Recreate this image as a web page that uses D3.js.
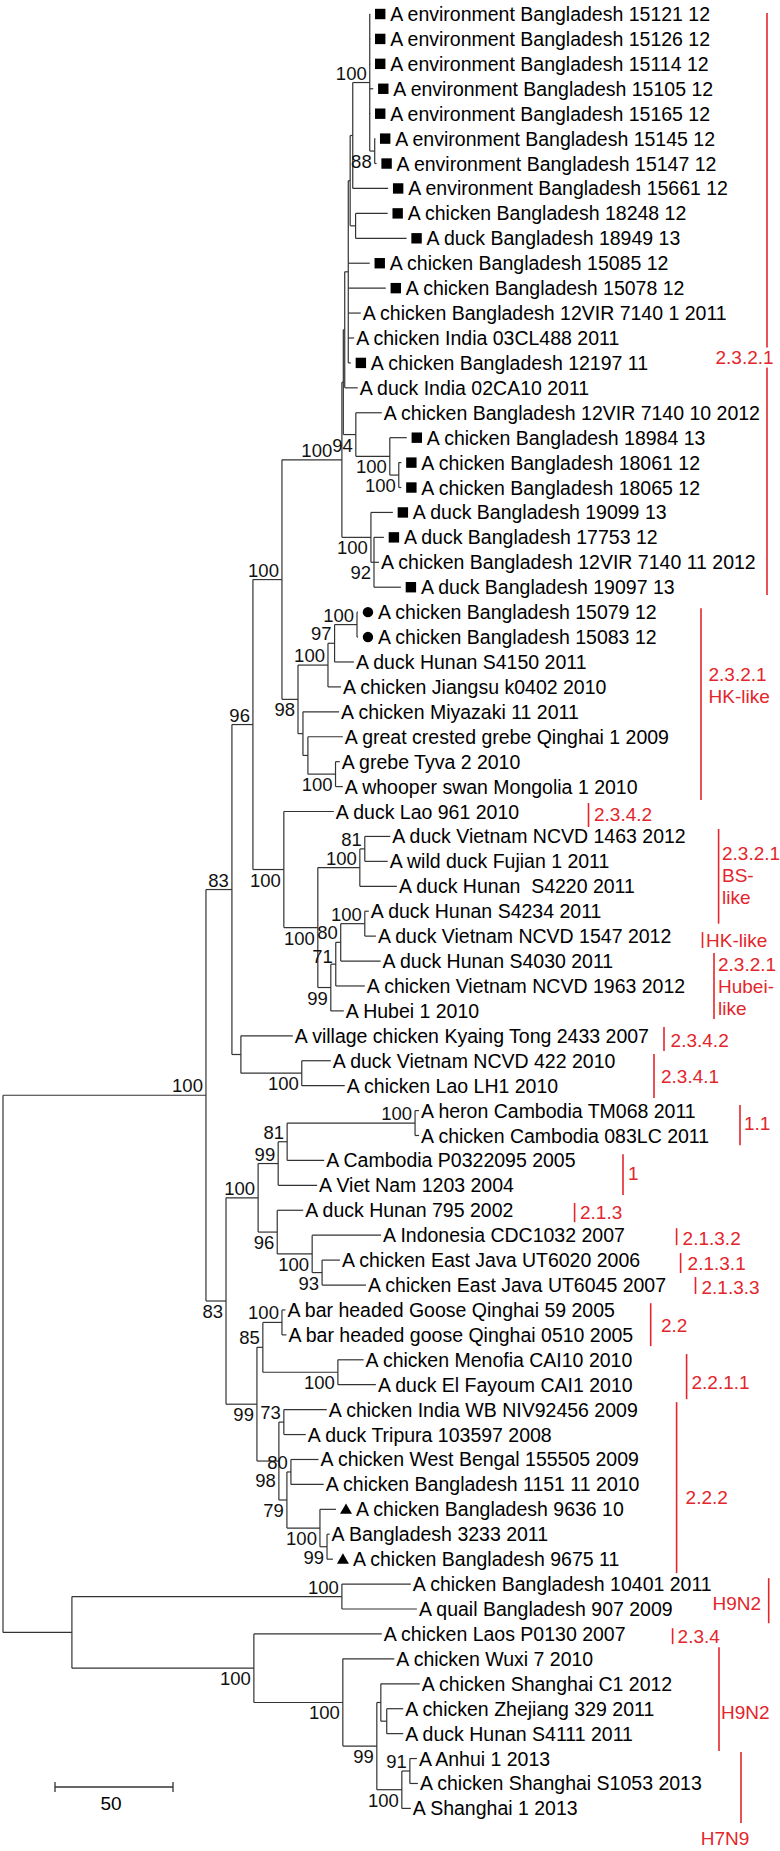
<!DOCTYPE html>
<html><head><meta charset="utf-8">
<script src="https://cdn.jsdelivr.net/npm/d3@7"></script>
<style>
body{margin:0;background:#fff}
svg{display:block}
text{font-family:"Liberation Sans",Arial,Helvetica,sans-serif;white-space:pre}
</style>
</head><body>
<svg id="chart" width="780" height="1851"></svg>
<script>
// ---------------- DATA ----------------
const leafNames = [
"A environment Bangladesh 15121 12","A environment Bangladesh 15126 12","A environment Bangladesh 15114 12",
"A environment Bangladesh 15105 12","A environment Bangladesh 15165 12","A environment Bangladesh 15145 12",
"A environment Bangladesh 15147 12","A environment Bangladesh 15661 12","A chicken Bangladesh 18248 12",
"A duck Bangladesh 18949 13","A chicken Bangladesh 15085 12","A chicken Bangladesh 15078 12",
"A chicken Bangladesh 12VIR 7140 1 2011","A chicken India 03CL488 2011","A chicken Bangladesh 12197 11",
"A duck India 02CA10 2011","A chicken Bangladesh 12VIR 7140 10 2012","A chicken Bangladesh 18984 13",
"A chicken Bangladesh 18061 12","A chicken Bangladesh 18065 12","A duck Bangladesh 19099 13",
"A duck Bangladesh 17753 12","A chicken Bangladesh 12VIR 7140 11 2012","A duck Bangladesh 19097 13",
"A chicken Bangladesh 15079 12","A chicken Bangladesh 15083 12","A duck Hunan S4150 2011",
"A chicken Jiangsu k0402 2010","A chicken Miyazaki 11 2011","A great crested grebe Qinghai 1 2009",
"A grebe Tyva 2 2010","A whooper swan Mongolia 1 2010","A duck Lao 961 2010",
"A duck Vietnam NCVD 1463 2012","A wild duck Fujian 1 2011","A duck Hunan  S4220 2011",
"A duck Hunan S4234 2011","A duck Vietnam NCVD 1547 2012","A duck Hunan S4030 2011",
"A chicken Vietnam NCVD 1963 2012","A Hubei 1 2010","A village chicken Kyaing Tong 2433 2007",
"A duck Vietnam NCVD 422 2010","A chicken Lao LH1 2010","A heron Cambodia TM068 2011",
"A chicken Cambodia 083LC 2011","A Cambodia P0322095 2005","A Viet Nam 1203 2004",
"A duck Hunan 795 2002","A Indonesia CDC1032 2007","A chicken East Java UT6020 2006",
"A chicken East Java UT6045 2007","A bar headed Goose Qinghai 59 2005","A bar headed goose Qinghai 0510 2005",
"A chicken Menofia CAI10 2010","A duck El Fayoum CAI1 2010","A chicken India WB NIV92456 2009",
"A duck Tripura 103597 2008","A chicken West Bengal 155505 2009","A chicken Bangladesh 1151 11 2010",
"A chicken Bangladesh 9636 10","A Bangladesh 3233 2011","A chicken Bangladesh 9675 11",
"A chicken Bangladesh 10401 2011","A quail Bangladesh 907 2009","A chicken Laos P0130 2007",
"A chicken Wuxi 7 2010","A chicken Shanghai C1 2012","A chicken Zhejiang 329 2011",
"A duck Hunan S4111 2011","A Anhui 1 2013","A chicken Shanghai S1053 2013","A Shanghai 1 2013"
];
// marker: s = square, c = circle, t = triangle, "" = none
const leafMarkers = [
"s","s","s","s","s","s","s","s","s","s","s","s","","","s","","","s","s","s","s","s","","s",
"c","c","","","","","","","","","","","","","","","","","","","","","","","","","","",
"","","","","","","","","t","","t","","","","","","","","","",""
];
const leafParent = [
"N100top","N100top","N100top","N100top","N100top","N88","N88","S","N910","N910",
"R1","R1","R1","R1","R1","P","N94","N18984","N18061","N18061","N100low","N92","N92","N92",
"N100c","N100c","N97","N100h","NMiy","NGreb","N100sw","N100sw","N100b","N81a","N81a","NBSl",
"N100hk","N100hk","N80h","N71","N99h","N234","N100lao","N100lao","N100her","N100her","N81c",
"N99c1","N96c","N100ind","N93","N93","N100bh","N100bh","N100eg","N100eg","N73","N73",
"N80b","N80b","N100bd","N99bd","N99bd","N100h9","N100h9","N100o","N100o2","NSh","NZh","NZh",
"N91","N91","N100o3"
];
const leafLength = [
0.2,0.2,0.2,1.5,0.2,0.2,0.8,15.0,13.6,21.6,
9.1,15.9,5.3,2.5,1.1,5.5,11.0,7.2,1.1,1.1,9.3,4.2,2.1,11.4,
0.4,0.4,8.2,5.5,15.3,14.8,1.8,3.1,21.2,10.8,9.7,15.7,
1.7,4.7,16.9,12.3,5.5,22.0,12.3,18.2,1.7,1.7,15.7,
16.5,11.0,29.2,7.6,18.6,1.5,1.9,10.9,16.1,18.2,9.3,
11.7,13.9,6.8,1.1,2.5,29.2,31.8,54.2,21.8,16.5,7.0,7.0,
3.0,3.4,3.8
];
const nodeIds = ["X206","O72","N83a","N83b","N96","N234","X1","N100b","N2321","U","P","R1","T","S",
"N100top","N88","N910","N94","N18984","N18061","N100low","N92","N98","N100h","N97","N100c","NMiy",
"NGreb","N100sw","NBS","NBSl","N81a","N99h","N71","N80h","N100hk","N100lao","N100c1","N99c1","N81c",
"N100her","N96c","N100ind","N93","N99b","N85","N100bh","N100eg","N98b","N73","N79","N80b","N100bd",
"N99bd","N100h9","N100o","N100o2","N99o","NSh","NZh","N100o3","N91"];
const nodeParents = ["root","root","X206","X206","N83a","N83a","N96","N96","X1","N2321","U","P","R1","T",
"S","N100top","T","U","N94","N18984","N2321","N100low","X1","N98","N100h","N97","N98",
"NMiy","NGreb","N100b","NBS","NBSl","NBS","N99h","N71","N80h","N234","N83b","N100c1","N99c1",
"N81c","N100c1","N96c","N100ind","N83b","N99b","N85","N85","N99b","N98b","N98b","N79","N79",
"N100bd","O72","O72","N100o","N100o2","N99o","NSh","N99o","N100o3"];
const nodeLengths = [86.0,29.2,11.0,8.5,8.9,3.8,12.3,13.1,25.4,0.6,0.6,1.5,0.8,1.1,
7.2,2.1,2.3,5.3,14.4,3.8,12.3,1.3,6.8,12.7,2.8,9.5,2.1,
2.1,11.7,14.4,17.8,2.1,5.5,2.1,2.1,10.2,25.8,13.6,8.5,3.8,
54.2,8.1,14.8,4.2,13.1,2.5,8.1,31.8,9.3,2.1,3.4,1.7,14.0,
3.0,114.4,77.1,37.7,14.4,1.7,2.5,10.6,3.4];
const nodeSupport = [100,null,83,83,96,null,100,100,100,null,null,null,null,null,
100,88,null,94,100,100,100,92,98,100,97,100,null,
null,100,100,100,81,99,71,80,100,100,100,99,81,
100,96,100,93,99,85,100,100,98,73,79,80,100,
99,100,100,100,99,null,null,100,91];
const scaleBarValue = 50;

// clade annotations (text), with hand-placed layout (leaf-index units for vertical extents)
const cladeAnnotations = [
 {lines:["2.3.2.1"], from:-0.04, to:23.31, x:767, tx:715.5, ty:13.76, halo:true},
 {lines:["2.3.2.1","HK-like"], from:23.84, to:31.54, x:701, tx:708.5, ty:26.95},
 {lines:["2.3.4.2"], from:31.66, to:32.62, x:588.5, tx:594, ty:32.1},
 {lines:["2.3.2.1","BS-","like"], from:32.7, to:36.5, x:718.6, tx:722, ty:34.55},
 {lines:["HK-like"], from:36.84, to:37.48, x:702.5, tx:706, ty:37.16},
 {lines:["2.3.2.1","Hubei-","like"], from:37.68, to:40.33, x:714, tx:718, ty:39.02},
 {lines:["2.3.4.2"], from:40.65, to:41.61, x:664, tx:670.6, ty:41.17},
 {lines:["2.3.4.1"], from:41.73, to:43.5, x:654, tx:661, ty:42.62},
 {lines:["1.1"], from:43.78, to:45.39, x:740, tx:744, ty:44.5},
 {lines:["1"], from:45.75, to:47.39, x:623, tx:628, ty:46.5},
 {lines:["2.1.3"], from:47.71, to:48.48, x:574.6, tx:580, ty:48.07},
 {lines:["2.1.3.2"], from:48.72, to:49.4, x:676.6, tx:682.6, ty:49.12},
 {lines:["2.1.3.1"], from:49.72, to:50.52, x:680.6, tx:687.6, ty:50.12},
 {lines:["2.1.3.3"], from:50.68, to:51.36, x:695.5, tx:701.5, ty:51.08},
 {lines:["2.2"], from:51.73, to:53.45, x:650.7, tx:661, ty:52.61},
 {lines:["2.2.1.1"], from:53.77, to:55.58, x:686.6, tx:691.5, ty:54.9},
 {lines:["2.2.2"], from:55.7, to:62.56, x:676.6, tx:685.6, ty:59.51},
 {lines:["H9N2"], from:62.76, to:64.57, x:768.7, tx:761, ty:63.76, anchor:"end"},
 {lines:["2.3.4"], from:64.77, to:65.41, x:672.6, tx:677.6, ty:65.09},
 {lines:["H9N2"], from:65.53, to:69.7, x:719, tx:721, ty:68.14},
 {lines:["H7N9"], from:69.74, to:72.59, x:741, tx:725, ty:73.19, anchor:"middle"}
];

// ---------------- BUILD TREE ----------------
const nodes = new Map();
nodes.set("root", {id:"root", parent:null, len:0, support:null, children:[]});
nodeIds.forEach((id,i)=>nodes.set(id,{id, parent:nodeParents[i], len:nodeLengths[i], support:nodeSupport[i], children:[]}));
leafNames.forEach((name,i)=>nodes.set("L"+i,{id:"L"+i, parent:leafParent[i], len:leafLength[i], leaf:i, name, marker:leafMarkers[i], children:[]}));
nodes.forEach(n=>{ if(n.parent) nodes.get(n.parent).children.push(n); });
const root = nodes.get("root");

const yScale = d3.scaleLinear().domain([0, leafNames.length-1]).range([14, 1808.4]);
const xScale = d3.scaleLinear().domain([0, scaleBarValue]).range([3, 121]);

function minLeaf(n){ if(n.leaf!==undefined) return n.leaf; return n._min ?? (n._min = d3.min(n.children, minLeaf)); }
function layout(n, depth){
  n.depth = depth;
  if(n.leaf!==undefined){ n.y = yScale(n.leaf); return; }
  n.children.sort((a,b)=>minLeaf(a)-minLeaf(b));
  n.children.forEach(c=>layout(c, depth + c.len));
  n.y = (n.children[0].y + n.children[n.children.length-1].y)/2;
}
layout(root, 0);
const all = Array.from(nodes.values());

// ---------------- DRAW ----------------
const svg = d3.select("#chart");
const gTree = svg.append("g").attr("stroke","#333").attr("stroke-width",1.2).attr("fill","none");

// horizontal branches
gTree.selectAll("line.h").data(all.filter(n=>n.parent)).join("line")
  .attr("x1", n=>xScale(nodes.get(n.parent).depth)).attr("x2", n=>xScale(n.depth))
  .attr("y1", n=>n.y).attr("y2", n=>n.y);
// vertical connectors
gTree.selectAll("line.v").data(all.filter(n=>n.children.length)).join("line")
  .attr("x1", n=>xScale(n.depth)).attr("x2", n=>xScale(n.depth))
  .attr("y1", n=>n.children[0].y).attr("y2", n=>n.children[n.children.length-1].y);

// bootstrap labels
const internal = all.filter(n=>n.support);
const supLabels = svg.append("g").selectAll("text").data(internal).join("text")
  .attr("font-size", 18.5).attr("fill","#111").attr("text-anchor","end")
  .attr("x", n=>xScale(n.depth)-3)
  .attr("y", n=>{
     const p = nodes.get(n.parent);
     const last = p.children[p.children.length-1]===n;
     return last ? n.y+17 : n.y-3;
  })
  .text(n=>n.support);
// nudge labels that collide: side-by-side ones move left, stacked ones move apart vertically
const boxes = supLabels.nodes().map(el=>({el, b:el.getBBox()}));
boxes.forEach(a=>boxes.forEach(c=>{
  if(a===c) return;
  const ay = a.b.y + a.b.height/2, cy = c.b.y + c.b.height/2;
  const hOver = a.b.x < c.b.x + c.b.width && c.b.x < a.b.x + a.b.width;
  if(!hOver) return;
  if(Math.abs(ay-cy) <= 8){
    if(a.b.x < c.b.x){
      const shift = a.b.x + a.b.width - c.b.x;
      const el = d3.select(a.el);
      el.attr("x", +el.attr("x") - shift);
      a.b = a.el.getBBox();
    }
  } else if(ay > cy){
    const over = c.b.y + c.b.height - 3 - a.b.y;   // ignore glyph-box padding
    if(over > 0){
      const el = d3.select(a.el);
      el.attr("y", +el.attr("y") + over);
      a.b = a.el.getBBox();
    }
  }
}));

// leaves
const leaves = all.filter(n=>n.leaf!==undefined);
const gLeaf = svg.append("g");
gLeaf.selectAll("text").data(leaves).join("text")
  .attr("font-size", 19.5).attr("fill","#000")
  .attr("x", n=>xScale(n.depth) + (n.marker ? 20 : 2))
  .attr("y", n=>n.y + 7)
  .text(n=>n.name);
gLeaf.selectAll("rect").data(leaves.filter(n=>n.marker==="s")).join("rect")
  .attr("x", n=>xScale(n.depth)+10-5.2).attr("y", n=>n.y-5.2)
  .attr("width",10.4).attr("height",10.4).attr("fill","#000");
gLeaf.selectAll("circle").data(leaves.filter(n=>n.marker==="c")).join("circle")
  .attr("cx", n=>xScale(n.depth)+10).attr("cy", n=>n.y).attr("r",5.2).attr("fill","#000");
gLeaf.selectAll("path").data(leaves.filter(n=>n.marker==="t")).join("path")
  .attr("transform", n=>`translate(${xScale(n.depth)+10},${n.y+1})`)
  .attr("d", d3.symbol(d3.symbolTriangle, 62)).attr("fill","#000");

// scale bar
const sbX0 = 55, sbLen = xScale(scaleBarValue) - xScale(0), sbY = 1787;
const gSb = svg.append("g").attr("stroke","#333").attr("stroke-width",1.3);
gSb.append("line").attr("x1",sbX0).attr("x2",sbX0+sbLen).attr("y1",sbY).attr("y2",sbY);
gSb.append("line").attr("x1",sbX0).attr("x2",sbX0).attr("y1",sbY-5).attr("y2",sbY+5);
gSb.append("line").attr("x1",sbX0+sbLen).attr("x2",sbX0+sbLen).attr("y1",sbY-5).attr("y2",sbY+5);
svg.append("text").attr("x", sbX0+sbLen/2-3).attr("y", sbY+23).attr("text-anchor","middle")
  .attr("font-size",19).text(scaleBarValue);

// clade annotations
const red = "#e3262c";
const gAnn = svg.append("g");
cladeAnnotations.forEach(a=>{
  gAnn.append("line").attr("x1",a.x).attr("x2",a.x)
    .attr("y1", yScale(a.from)).attr("y2", yScale(a.to))
    .attr("stroke", red).attr("stroke-width",1.6);
  const lh = 22, fs = 19;
  const t = gAnn.append("text").attr("font-size",fs).attr("fill",red)
    .attr("text-anchor", a.anchor || "start");
  if(a.halo) t.attr("stroke","#fff").attr("stroke-width",7).attr("paint-order","stroke");
  a.lines.forEach((ln,i)=>{
    t.append("tspan").attr("x", a.tx)
     .attr("y", yScale(a.ty) + (i-(a.lines.length-1)/2)*lh + 0.36*fs)
     .text(ln);
  });
});
</script>
</body></html>
